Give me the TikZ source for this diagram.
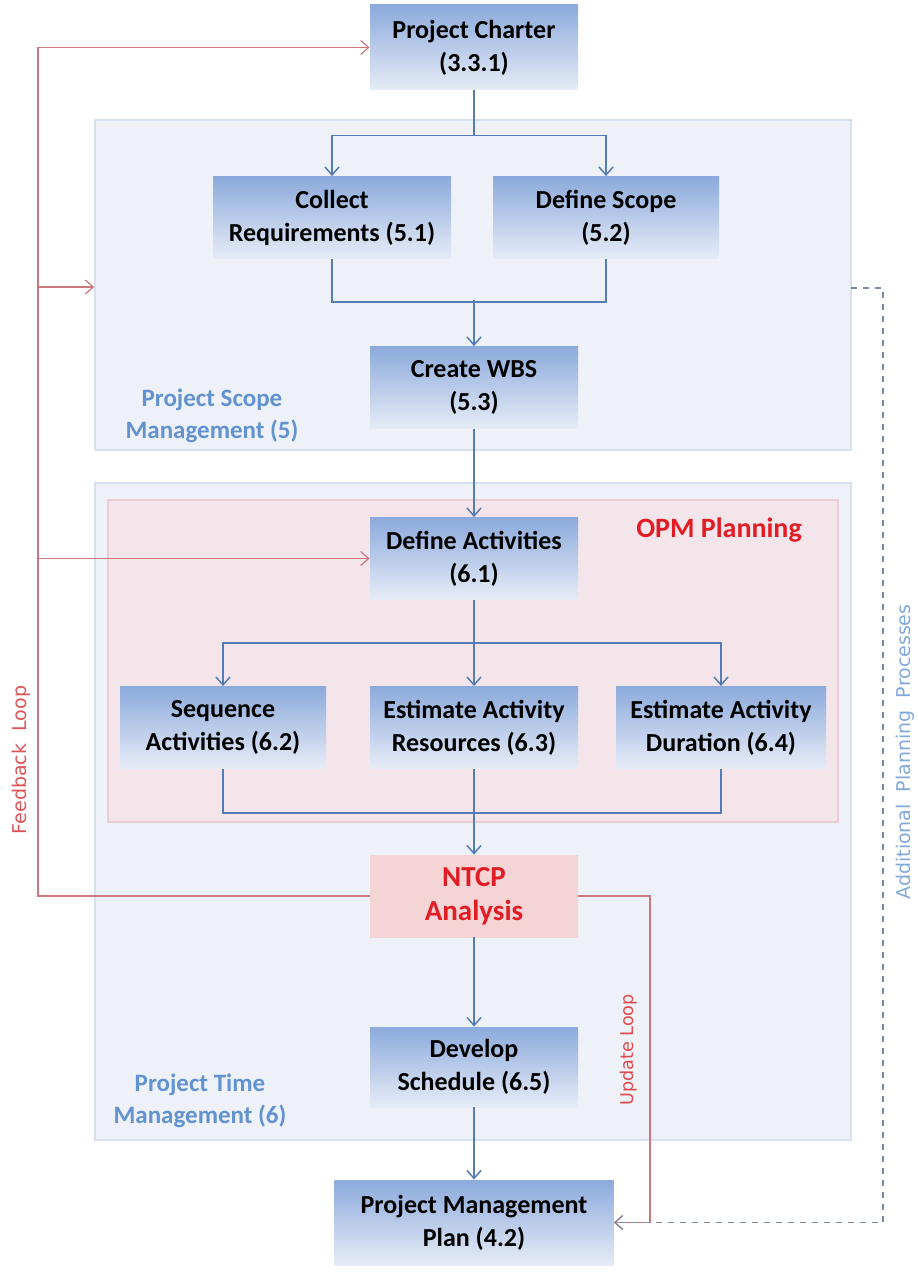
\documentclass[tikz,border=0pt]{standalone}
\usepackage{fontspec}
\setmainfont{Carlito}
\newfontfamily\loopfont{DejaVu Sans}
\usetikzlibrary{arrows.meta}

\definecolor{boxtop}{RGB}{140,170,220}
\definecolor{boxbottom}{RGB}{230,236,247}
\definecolor{flowblue}{RGB}{84,125,182}
\definecolor{loopred}{RGB}{205,120,125}
\definecolor{scopefill}{RGB}{238,242,248}
\definecolor{scopeline}{RGB}{214,224,238}
\definecolor{opmfill}{RGB}{243,229,233}
\definecolor{opmline}{RGB}{234,204,210}
\definecolor{ntcpfill}{RGB}{244,212,212}
\definecolor{titleblue}{RGB}{98,146,208}
\definecolor{alertred}{RGB}{226,28,36}
\definecolor{dashgrey}{RGB}{120,140,165}

\begin{document}
\begin{tikzpicture}[
		x=0.5pt, y=-0.5pt,
		process/.style={top color=boxtop, bottom color=boxbottom, minimum width=104pt, minimum height=41pt,
			inner sep=0pt, align=center, font=\bfseries\fontsize{13}{16.5}\selectfont},
		ntcpbox/.style={process, fill=ntcpfill, top color=ntcpfill, bottom color=ntcpfill, text=alertred,
			font=\bfseries\fontsize{14.5}{17}\selectfont},
		area/.style={draw=scopeline, fill=scopefill, line width=0.8pt, minimum width=378pt, inner sep=0pt},
		opmarea/.style={draw=opmline, fill=opmfill, line width=0.8pt, minimum width=365pt, minimum height=161pt, inner sep=0pt},
		arealabel/.style={text=titleblue, align=center, font=\bfseries\fontsize{12.5}{16}\selectfont},
		flow/.style={draw=flowblue, line width=0.75pt, -{Straight Barb[length=4pt,width=7pt]}},
		link/.style={draw=flowblue, line width=0.75pt},
		feedback/.style={draw=loopred, line width=0.6pt, -{Straight Barb[length=4pt,width=7pt]}},
		extra/.style={draw=dashgrey, line width=0.6pt, dashed, -{Straight Barb[length=4pt,width=7pt]}},
		looplabel/.style={rotate=90, font=\loopfont\fontsize{9.5}{10}\selectfont}
		]
		
		\useasboundingbox (0,0) rectangle (917,1272);
		
		\node[area, minimum height=165pt] (scope) at (473,285) {};
		\node[area, minimum height=328.5pt] (time) at (473,811.5) {};
		\node[opmarea] (opm) at (473,661) {};
		
		\node[arealabel] (scopelabel) at (212,416) {Project Scope\\Management (5)};
		\node[arealabel] (timelabel) at (200,1101) {Project Time\\Management (6)};
		\node[text=alertred, font=\bfseries\fontsize{14}{16}\selectfont] (opmlabel) at (719,530) {OPM Planning};
		
		\node[process, minimum height=42.5pt] (charter) at (474,47.5) {Project Charter\\(3.3.1)};
		\node[process, minimum width=119pt] (collect) at (332,217.5) {Collect\\Requirements (5.1)};
		\node[process, minimum width=113pt] (scopedef) at (606,217.5) {Define Scope\\(5.2)};
		\node[process] (wbs) at (474,387.5) {Create WBS\\(5.3)};
		\node[process] (activities) at (474,558.5) {Define Activities\\(6.1)};
		\node[process, minimum width=103pt] (sequence) at (223,727.5) {Sequence\\Activities (6.2)};
		\node[process] (resources) at (474,727.5) {Estimate Activity\\Resources (6.3)};
		\node[process, minimum width=105pt] (duration) at (721,727.5) {Estimate Activity\\Duration (6.4)};
		\node[ntcpbox] (ntcp) at (474,896) {NTCP\\Analysis};
		\node[process, minimum height=40pt] (schedule) at (474,1067) {Develop\\Schedule (6.5)};
		\node[process, minimum width=139.5pt, minimum height=42.5pt] (plan) at (474,1222.5) {Project Management\\Plan (4.2)};
		
		\draw[flow] (charter.south) -- ++(0,45) -| (collect.north);
		\draw[flow] (charter.south) -- ++(0,45) -| (scopedef.north);
		\draw[link] (collect.south) -- ++(0,43) -| (scopedef.south);
		\coordinate (merge1) at (474,300);
		\draw[flow] (merge1) -- (wbs.north);
		\draw[flow] (wbs) -- (activities);
		
		\draw[flow] (activities.south) -- ++(0,43) -| (sequence.north);
		\draw[flow] (activities.south) -- ++(0,43) -| (duration.north);
		\draw[flow] (activities) -- (resources);
		\draw[link] (sequence.south) -- ++(0,44) -| (duration.south);
		\draw[flow] (resources) -- (ntcp);
		\draw[flow] (ntcp) -- (schedule);
		\draw[flow] (schedule) -- (plan);
		
		\coordinate (fbcorner) at (38,896);
		\coordinate (fbscope) at (38,287);
		\coordinate (fbact) at (38,558.5);
		\draw[feedback] (ntcp.west) -- (fbcorner) |- (charter.west);
		\draw[feedback] (fbscope) -- (fbscope -| scope.west);
		\draw[feedback] (fbact) -- (activities.west);
		\node[looplabel, text=loopred!70!red] (fblabel) at (21,760) {Feedback\ \ Loop};
		
		\coordinate (updcorner) at (650,896);
		\draw[feedback] (ntcp.east) -- (updcorner) |- (plan.east);
		\node[looplabel, text=loopred!60!red, font=\loopfont\fontsize{8.8}{10}\selectfont] (updlabel) at (629,1050) {Update Loop};
		
		\coordinate (extrastart) at (851,288);
		\coordinate (extracorner) at (883,288);
		\draw[extra] (extrastart) -- (extracorner) |- (plan.east);
		\node[looplabel, text=titleblue!80] (extralabel) at (905,752) {Additional\ \ Planning\ \ Processes};
		
	\end{tikzpicture}
\end{document}
